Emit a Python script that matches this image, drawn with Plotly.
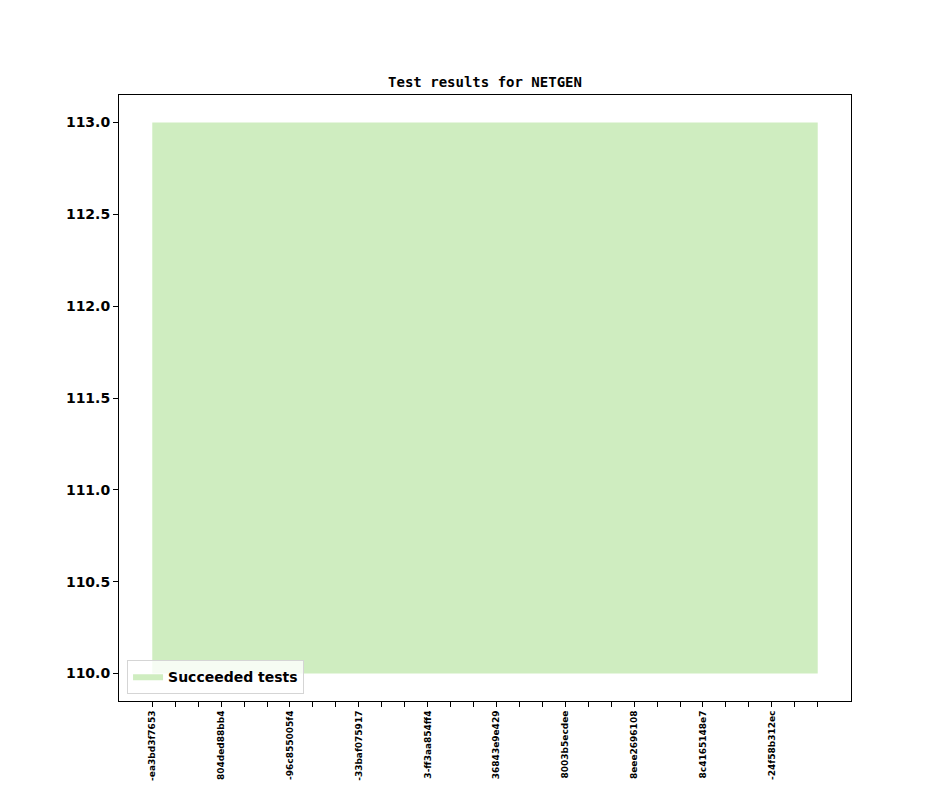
import plotly.graph_objects as go

# Data
x_positions = [0, 1, 2, 3, 4, 5, 6, 7, 8, 9, 10, 11, 12, 13, 14,
               15, 16, 17, 18, 19, 20, 21, 22, 23, 24, 25, 26, 27, 28, 29]
base_values = [110, 110, 110, 110, 110, 110, 110, 110, 110, 110,
               110, 110, 110, 110, 110, 110, 110, 110, 110, 110,
               110, 110, 110, 110, 110, 110, 110, 110, 110, 110]
succeeded_values = [113, 113, 113, 113, 113, 113, 113, 113, 113, 113,
                    113, 113, 113, 113, 113, 113, 113, 113, 113, 113,
                    113, 113, 113, 113, 113, 113, 113, 113, 113, 113]
label_positions = [0, 3, 6, 9, 12, 15, 18, 21, 24, 27]
tick_labels = ["-ea3bd3f7653", "804ded88bb4", "-96c855005f4", "-33baf075917",
               "3-ff3aa854ff4", "36843e9e429", "8003b5ecdee", "8eee2696108",
               "8c4165148e7", "-24f58b312ec"]
y_ticks = [110.0, 110.5, 111.0, 111.5, 112.0, 112.5, 113.0]

label_map = dict(zip(label_positions, tick_labels))
ticktext = [label_map.get(p, "") for p in x_positions]

fill_color = "#cfedc0"

fig = go.Figure()
fig.add_trace(go.Scatter(
    x=x_positions, y=base_values, mode="lines",
    line=dict(width=0, color=fill_color), showlegend=False, hoverinfo="skip"))
fig.add_trace(go.Scatter(
    x=x_positions, y=succeeded_values, mode="lines", fill="tonexty",
    fillcolor=fill_color, line=dict(width=0, color=fill_color),
    name="Succeeded tests"))

W, H = 944, 787
L, T = 111, 87
PW, PH = 732, 606

fig.update_layout(
    width=W, height=H,
    margin=dict(l=L, r=W - L - PW, t=T, b=H - T - PH),
    paper_bgcolor="white", plot_bgcolor="white",
    title=dict(text="<b>Test results for NETGEN</b>", x=(L + PW / 2) / W, xanchor="center",
               y=1 - 74 / H, yanchor="middle",
               font=dict(family="DejaVu Sans Mono", size=14, color="black")),
    legend=dict(x=0.011, y=0.012, xanchor="left", yanchor="bottom",
                bgcolor="rgba(255,255,255,0.8)", bordercolor="#d5d5d5", borderwidth=1,
                font=dict(family="DejaVu Sans", size=14, color="black", weight="bold")),
    font=dict(family="DejaVu Sans", color="black"),
)
fig.update_xaxes(
    range=[-1.45, 30.45], tickmode="array", tickvals=x_positions, ticktext=ticktext,
    tickangle=-90, ticks="outside", ticklen=5, tickcolor="black",
    showgrid=False, zeroline=False, showline=True, linecolor="black", linewidth=1,
    mirror=True, automargin=False,
    tickfont=dict(family="DejaVu Sans", size=9, color="black", weight="bold"))
fig.update_yaxes(
    range=[109.85, 113.15], tickmode="array", tickvals=y_ticks,
    ticktext=[f"{v:.1f}" for v in y_ticks],
    ticks="outside", ticklen=5, tickcolor="black",
    showgrid=False, zeroline=False, showline=True, linecolor="black", linewidth=1,
    mirror=True, automargin=False,
    tickfont=dict(family="DejaVu Sans", size=14, color="black", weight="bold"))

fig.write_html("out.html")
